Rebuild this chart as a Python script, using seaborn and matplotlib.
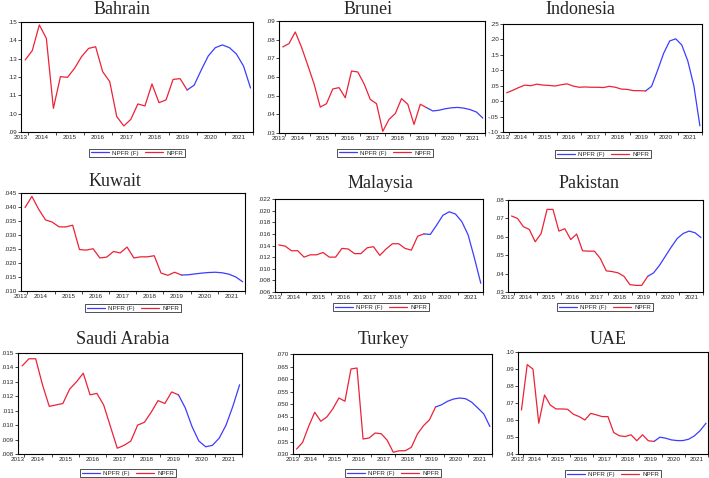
import numpy as np
import pandas as pd
import seaborn as sns
import matplotlib
matplotlib.use('Agg')
import matplotlib.pyplot as plt
from matplotlib.lines import Line2D
from matplotlib.ticker import FuncFormatter

years = ['2013', '2014', '2015', '2016', '2017', '2018', '2019', '2020', '2021']

bahrain_npfr = [.1293, .1344, .1484, .1411, .1029, .1202, .1198, .1247, .1311, .1356, .1365, .1229,
                .1175, .0984, .0933, .0969, .1053, .1042, .1162, .1060, .1075, .1187, .1191, .1129]
bahrain_fc = [.1129, .1156, .1238, .1315, .1360, .1375, .1360, .1325, .1260, .1140]

brunei_npfr = [.0761, .0779, .0841, .0760, .0663, .0564, .0439, .0457, .0536, .0543, .0489, .0632,
               .0627, .0564, .0480, .0457, .0309, .0373, .0404, .0484, .0454, .0346, .0454, .0436]
brunei_fc = [.0436, .0418, .0422, .0430, .0435, .0437, .0433, .0425, .0412, .0380]

indonesia_npfr = [.027, .035, .044, .052, .050, .055, .052, .051, .049, .053, .056, .049,
                  .045, .046, .045, .045, .044, .048, .045, .039, .038, .034, .034, .033]
indonesia_fc = [.033, .048, .100, .155, .195, .202, .182, .130, .050, -.080]

kuwait_npfr = [.0398, .0438, .0392, .0354, .0346, .0329, .0329, .0335, .0248, .0246, .0251, .0218,
               .0221, .0241, .0236, .0257, .0218, .0222, .0222, .0226, .0164, .0156, .0167, .0157]
kuwait_fc = [.0157, .0158, .0161, .0164, .0166, .0167, .0165, .0160, .0150, .0133]

malaysia_npfr = [.0141, .0139, .0131, .0131, .0120, .0124, .0124, .0128, .0120, .0120, .0135, .0134,
                 .0126, .0126, .0136, .0138, .0123, .0134, .0143, .0143, .0135, .0132, .0156, .0160]
malaysia_fc = [.0160, .0159, .0175, .0192, .0198, .0194, .0181, .0158, .0118, .0075]

pakistan_npfr = [.0713, .0700, .0655, .0640, .0573, .0618, .0749, .0749, .0631, .0644, .0585, .0615,
                 .0524, .0522, .0522, .0482, .0415, .0411, .0404, .0385, .0340, .0336, .0336, .0385]
pakistan_fc = [.0385, .0404, .0445, .0495, .0545, .0591, .0618, .0631, .0622, .0596]

saudi_npfr = [.0141, .0146, .0146, .0128, .0113, .0114, .0115, .0125, .0130, .0136, .0121, .0122,
              .0114, .0099, .0084, .0086, .0089, .0100, .0102, .0109, .0117, .0115, .0123, .0121]
saudi_fc = [.0121, .0112, .0099, .0089, .0085, .0086, .0091, .0100, .0113, .0128]

turkey_npfr = [.0320, .0347, .0411, .0467, .0431, .0448, .0481, .0524, .0511, .0640, .0644, .0360,
               .0364, .0384, .0381, .0355, .0307, .0313, .0313, .0327, .0380, .0413, .0437, .0488]
turkey_fc = [.0488, .0497, .0511, .0520, .0524, .0521, .0507, .0484, .0460, .0410]

uae_npfr = [.0659, .0926, .0899, .0581, .0747, .0688, .0665, .0665, .0663, .0634, .0620, .0600,
            .0639, .0630, .0620, .0620, .0526, .0507, .0503, .0513, .0478, .0513, .0478, .0474]
uae_fc = [.0474, .0499, .0493, .0483, .0479, .0479, .0487, .0507, .0538, .0581]

BLUE = '#3c3cff'
RED = '#ec2238'
W, H = 709, 478

# name, actual, forecast, ylim, ytick step, decimals, axes box (px: l, t, r, b), title pos, legend pos
panels = [
    ('Bahrain', bahrain_npfr, bahrain_fc, (.09, .15), .01, 2, (21, 22, 253, 132), (122, 10), (137, 153)),
    ('Brunei', brunei_npfr, brunei_fc, (.03, .09), .01, 2, (279, 21, 485, 133), (368, 10), (385, 153)),
    ('Indonesia', indonesia_npfr, indonesia_fc, (-.10, .25), .05, 2, (503, 24, 702, 132), (580, 10), (603, 154)),
    ('Kuwait', kuwait_npfr, kuwait_fc, (.010, .045), .005, 3, (21, 193, 245, 291), (115, 182), (133, 308)),
    ('Malaysia', malaysia_npfr, malaysia_fc, (.006, .022), .002, 3, (275, 199, 483, 292), (380, 183), (381, 307)),
    ('Pakistan', pakistan_npfr, pakistan_fc, (.03, .08), .01, 2, (508, 200, 703, 292), (589, 183), (605, 307)),
    ('Saudi Arabia', saudi_npfr, saudi_fc, (.008, .015), .001, 3, (18, 353, 242, 454), (123, 340), (128, 473)),
    ('Turkey', turkey_npfr, turkey_fc, (.030, .070), .005, 3, (293, 354, 492, 454), (383, 339), (393, 473)),
    ('UAE', uae_npfr, uae_fc, (.04, .10), .01, 2, (518, 352, 708, 454), (608, 339), (613, 474)),
]

sns.set_style('white')
plt.rcParams['font.family'] = ['Liberation Sans', 'DejaVu Sans']

fig = plt.figure(figsize=(W / 100, H / 100), dpi=100)


def fmt(d):
    def f(v, pos):
        s = f"{v:.{d}f}"
        return s.replace('-0.', '-.').replace('0.', '.', 1) if abs(v) < 1 else s
    return FuncFormatter(f)


for name, act, fc, ylim, step, dec, box, tpos, lpos in panels:
    l, t, r, b = box
    ax = fig.add_axes([l / W, 1 - b / H, (r - l) / W, (b - t) / H])

    df_a = pd.DataFrame({'q': np.arange(len(act)), 'v': act})
    df_f = pd.DataFrame({'q': np.arange(len(act) - 1, len(act) - 1 + len(fc)), 'v': fc})
    sns.lineplot(data=df_f, x='q', y='v', color=BLUE, linewidth=0.9, ax=ax, legend=False)
    sns.lineplot(data=df_a, x='q', y='v', color=RED, linewidth=0.9, ax=ax, legend=False)

    ax.set_xlim(-0.6, 32.3)
    ax.set_ylim(*ylim)
    ax.set_yticks(np.arange(ylim[0], ylim[1] + step / 2, step))
    ax.yaxis.set_major_formatter(fmt(dec))

    # year labels sit between year boundary ticks
    ax.set_xticks([-0.6] + [2.35 + 4 * k for k in range(8)])
    ax.set_xticklabels(years)
    ax.set_xticks([0.35 + 4 * k for k in range(9)], minor=True)
    ax.tick_params(axis='x', which='major', length=0, labelsize=4.5, pad=2)
    ax.tick_params(axis='x', which='minor', length=2.5, width=0.6, direction='out', bottom=True)
    ax.tick_params(axis='y', length=2.0, width=0.6, direction='out', labelsize=4.5, pad=1.0, left=True)
    ax.set_xlabel('')
    ax.set_ylabel('')
    for sp in ax.spines.values():
        sp.set_color('black')
        sp.set_linewidth(0.8)

    fig.text(tpos[0] / W, 1 - tpos[1] / H, name, ha='center', va='center',
             family='Liberation Serif', fontsize=13)

    handles = [Line2D([], [], color=BLUE, lw=0.9), Line2D([], [], color=RED, lw=0.9)]
    leg = fig.legend(handles, ['NPFR (F)', 'NPFR'], loc='center',
                     bbox_to_anchor=(lpos[0] / W, 1 - lpos[1] / H), ncol=2, fontsize=4.5,
                     frameon=True, fancybox=False, edgecolor='black', handlelength=3.0,
                     borderpad=0.25, columnspacing=0.9, handletextpad=0.5)
    leg.get_frame().set_linewidth(0.6)

fig.savefig('out.png', dpi=100)
